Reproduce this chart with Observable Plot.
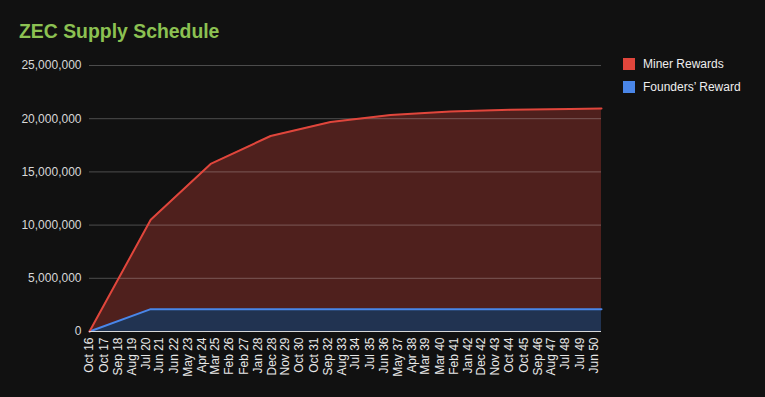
<!DOCTYPE html>
<html>
<head>
<meta charset="utf-8">
<script src="https://cdn.jsdelivr.net/npm/d3@7"></script>
<script src="https://cdn.jsdelivr.net/npm/@observablehq/plot@0.6"></script>
<style>
  html, body { margin: 0; padding: 0; background: #111111; }
  #wrap { position: relative; width: 765px; height: 397px; background: #111111; overflow: hidden; font-family: "Liberation Sans", Arial, sans-serif; }
  #title { position: absolute; left: 19px; top: 22px; font-size: 19.4px; line-height: 19px; font-weight: bold; color: #8cc152; white-space: nowrap; }
  .leg { position: absolute; left: 623px; font-size: 12px; line-height: 12px; color: #eeeeee; white-space: nowrap; }
  .leg span.sw { position: absolute; left: 0; top: 0; width: 12px; height: 12px; }
  .leg span.tx { position: absolute; left: 20px; top: 0; }
  #chart svg { display: block; }
</style>
</head>
<body>
<div id="wrap">
  <div id="chart"></div>
  <div id="title">ZEC Supply Schedule</div>
  <div id="legend"></div>
</div>
<script>
// ---- data ----
const seriesNames = ["Miner Rewards", "Founders\u2019 Reward"];
const seriesColors = ["#e0463c", "#4a86e8"];
const pointDates = ["2016-10", "2020-11", "2024-11", "2028-11", "2032-11", "2036-11", "2040-11", "2044-11", "2048-11", "2050-12"];
const minerRewards = [0, 8400000, 13650000, 16275000, 17587500, 18243750, 18571875, 18735900, 18818000, 18855000];
const foundersReward = [0, 2100000, 2100000, 2100000, 2100000, 2100000, 2100000, 2100000, 2100000, 2100000];
const xTickLabels = ["Oct 16","Oct 17","Sep 18","Aug 19","Jul 20","Jun 21","Jun 22","May 23","Apr 24","Mar 25","Feb 26","Feb 27","Jan 28","Dec 28","Nov 29","Oct 30","Oct 31","Sep 32","Aug 33","Jul 34","Jul 35","Jun 36","May 37","Apr 38","Mar 39","Mar 40","Feb 41","Jan 42","Dec 42","Nov 43","Oct 44","Oct 45","Sep 46","Aug 47","Jul 48","Jul 49","Jun 50"];
const yTicks = [0, 5000000, 10000000, 15000000, 20000000, 25000000];

// ---- build table ----
const parseYM = d3.utcParse("%Y-%m");
const parseTick = d3.utcParse("%b %y");
const rows = [];
pointDates.forEach((d, i) => {
  rows.push({date: parseYM(d), series: seriesNames[1], value: foundersReward[i]});
  rows.push({date: parseYM(d), series: seriesNames[0], value: minerRewards[i]});
});
const tickDates = xTickLabels.map(parseTick);
const order = [seriesNames[1], seriesNames[0]];
const xDomain = [parseYM(pointDates[0]), parseYM(pointDates[pointDates.length - 1])];

const chart = Plot.plot({
  width: 765,
  height: 397,
  marginLeft: 89,
  marginRight: 164,
  marginTop: 65,
  marginBottom: 66,
  style: { background: "#111111", color: "#d8d8d8", fontFamily: "\"Liberation Sans\", Arial, sans-serif", fontSize: "12px" },
  x: { type: "utc", domain: xDomain, axis: null },
  y: { domain: [0, 25000000], axis: null },
  color: { domain: seriesNames, range: seriesColors },
  marks: [
    Plot.areaY(rows, { x: "date", y: "value", z: "series", fill: "series", fillOpacity: 0.3, order }),
    Plot.gridY(yTicks.slice(1), { stroke: "#ffffff", strokeOpacity: 0.25 }),
    Plot.lineY(rows, Plot.stackY2({ x: "date", y: "value", z: "series", stroke: "series", strokeWidth: 2, order })),
    Plot.ruleY([0], { stroke: "#d8d8d8", strokeWidth: 1 }),
    Plot.axisY(yTicks, { tickSize: 0, tickPadding: 8, tickFormat: d3.format(","), label: null, fill: "#d8d8d8" }),
    Plot.axisX(tickDates, { tickSize: 0, tickPadding: 6, tickRotate: -90, tickFormat: (d, i) => xTickLabels[i], label: null, fill: "#e8e8e8" })
  ]
});
document.getElementById("chart").appendChild(chart);

// ---- legend ----
const legend = document.getElementById("legend");
const legTops = [58, 81];
seriesNames.forEach((name, i) => {
  const item = document.createElement("div");
  item.className = "leg";
  item.style.top = legTops[i] + "px";
  item.innerHTML = `<span class="sw" style="background:${seriesColors[i]}"></span><span class="tx"></span>`;
  item.querySelector(".tx").textContent = name;
  legend.appendChild(item);
});
</script>
</body>
</html>
